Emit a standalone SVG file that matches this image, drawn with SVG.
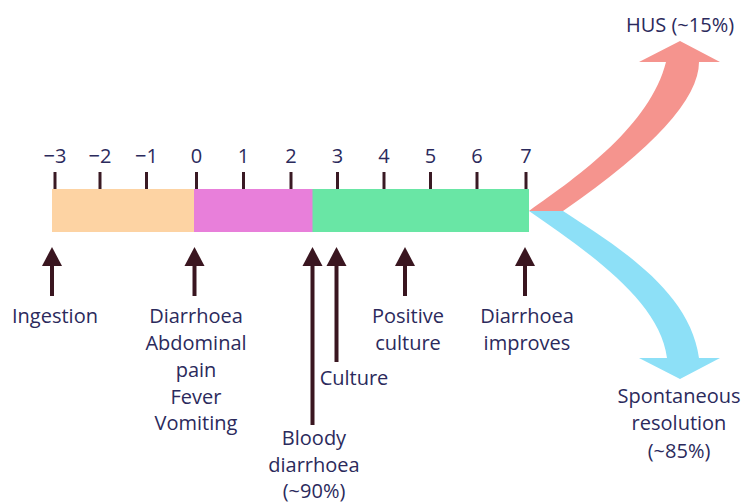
<svg xmlns="http://www.w3.org/2000/svg" width="745" height="503" viewBox="0 0 745 503">
<style>
text{font-family:"Open Sans","Liberation Sans",sans-serif;font-size:20px;fill:#2b2a5c;text-anchor:middle}
.tick{stroke:#3a1a24;stroke-width:3}
.arr{stroke:#3a1620;stroke-width:4;fill:none}
.head{fill:#3a1620}
</style>
<rect width="745" height="503" fill="#fff"/>
<g id="flows">
<path id="hus-flow" d="M529,211 C580,175 650,125 666,62 L639,62 L680,41 L720,62 L699,62 Q699,117 563,211 Z" fill="#f5948e"/>
<path id="res-flow" d="M529,211 L563,211 C615,245 690,290 699,358 L720,358 L680,379 L639,358 L667,358 C660,300 585,250 529,211 Z" fill="#8de0f7"/>
</g>
<g id="bar">
<rect x="52" y="189" width="143" height="43" fill="#fdd3a3"/>
<rect x="194" y="189" width="119" height="43" fill="#e87fda"/>
<rect x="312.5" y="189" width="216.5" height="43" fill="#69e6a5"/>
</g>
<g id="axis">
<line class="tick" x1="55" y1="172" x2="55" y2="189"/>
<line class="tick" x1="100" y1="172" x2="100" y2="189"/>
<line class="tick" x1="146.5" y1="172" x2="146.5" y2="189"/>
<line class="tick" x1="196.5" y1="172" x2="196.5" y2="189"/>
<line class="tick" x1="243.5" y1="172" x2="243.5" y2="189"/>
<line class="tick" x1="291" y1="172" x2="291" y2="189"/>
<line class="tick" x1="337.5" y1="172" x2="337.5" y2="189"/>
<line class="tick" x1="384" y1="172" x2="384" y2="189"/>
<line class="tick" x1="430.5" y1="172" x2="430.5" y2="189"/>
<line class="tick" x1="477" y1="172" x2="477" y2="189"/>
<line class="tick" x1="526" y1="172" x2="526" y2="189"/>
<text x="55" y="163">−3</text>
<text x="100" y="163">−2</text>
<text x="146.5" y="163">−1</text>
<text x="196.5" y="163">0</text>
<text x="243.5" y="163">1</text>
<text x="291" y="163">2</text>
<text x="337.5" y="163">3</text>
<text x="384" y="163">4</text>
<text x="430.5" y="163">5</text>
<text x="477" y="163">6</text>
<text x="526" y="163">7</text>
</g>
<g id="connectors">
<line class="arr" x1="52" y1="264" x2="52" y2="296"/><polygon class="head" points="42,266 52,247 62,266"/>
<line class="arr" x1="194.5" y1="264" x2="194.5" y2="296"/><polygon class="head" points="184.5,266 194.5,247 204.5,266"/>
<line class="arr" x1="312.5" y1="264" x2="312.5" y2="425"/><polygon class="head" points="302.5,266 312.5,247 322.5,266"/>
<line class="arr" x1="336.5" y1="264" x2="336.5" y2="362"/><polygon class="head" points="326.5,266 336.5,247 346.5,266"/>
<line class="arr" x1="405" y1="264" x2="405" y2="296"/><polygon class="head" points="395,266 405,247 415,266"/>
<line class="arr" x1="525" y1="264" x2="525" y2="296"/><polygon class="head" points="515,266 525,247 535,266"/>
</g>
<g id="ingestion"><text x="55" y="323">Ingestion</text></g>
<g id="symptoms">
<text x="196" y="323">Diarrhoea</text>
<text x="196" y="350">Abdominal</text>
<text x="196" y="377">pain</text>
<text x="196" y="404">Fever</text>
<text x="196" y="430">Vomiting</text>
</g>
<g id="bloody">
<text x="314" y="445">Bloody</text>
<text x="314" y="472">diarrhoea</text>
<text x="314" y="498">(~90%)</text>
</g>
<g id="culture"><text x="354" y="385">Culture</text></g>
<g id="positive">
<text x="408" y="323">Positive</text>
<text x="408" y="350">culture</text>
</g>
<g id="improves">
<text x="527" y="323">Diarrhoea</text>
<text x="527" y="350">improves</text>
</g>
<g id="hus"><text x="680" y="32">HUS (~15%)</text></g>
<g id="resolution">
<text x="679" y="403">Spontaneous</text>
<text x="679" y="430">resolution</text>
<text x="679" y="458">(~85%)</text>
</g>
</svg>
